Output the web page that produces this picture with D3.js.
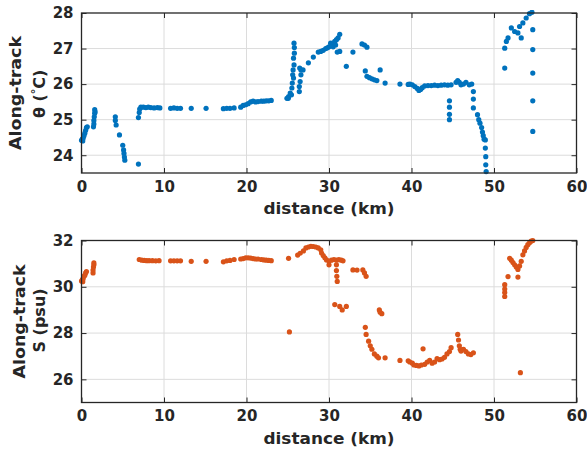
<!DOCTYPE html>
<html>
<head>
<meta charset="utf-8">
<script src="https://cdn.jsdelivr.net/npm/d3@7"></script>
<style>
  html, body { margin: 0; padding: 0; background: #fff; }
  svg { display: block; }
  text { font-family: "DejaVu Sans", sans-serif; font-weight: bold; fill: #262626; }
</style>
</head>
<body>
<div id="chart"></div>
<script>
// along-track temperature
var distTheta = [
  0.0, 0.15, 0.1, 0.2, 0.3, 0.4, 0.5, 0.6, 0.7,
  1.45, 1.5, 1.5, 1.55, 1.6, 1.65, 1.6,
  4.1, 4.1, 4.2, 4.6, 5.0, 5.1, 5.15, 5.2, 5.25,
  6.9, 6.9,
  7.0, 7.05, 7.2, 7.5, 7.8, 8.1, 8.4, 8.8, 9.2, 9.5,
  10.8, 11.2, 11.6, 12.0, 13.3, 15.1, 17.2, 17.6, 18.0, 18.5,
  19.3, 19.6, 19.9, 20.2, 20.5, 20.8, 21.1, 21.4, 21.8, 22.1, 22.4, 22.7, 23.0,
  24.9, 25.1, 25.3,
  25.76, 25.8, 25.8, 25.7, 25.76, 25.65, 25.6, 25.7, 25.55, 25.5, 25.45, 25.07,
  26.4, 26.4, 26.5, 26.6, 26.6, 26.45, 26.85, 27.5, 28.1,
  28.7, 29.0, 29.3, 29.6, 29.8, 30.0, 30.2, 30.3, 30.5, 30.5, 30.7, 30.8, 30.9, 31.1, 31.3,
  31.0, 31.3, 32.1, 32.9, 34.0, 34.3, 34.6,
  34.4, 34.6, 34.9, 35.2, 35.5, 35.8, 36.2, 36.8, 38.6, 39.6,
  39.8, 40.1, 40.4, 40.7, 40.9, 41.1, 41.3, 41.6, 42.0, 42.4, 42.8, 43.2, 43.6, 44.0, 44.4, 44.8,
  45.4, 45.6, 45.8, 46.0, 46.3, 46.6, 47.0, 47.3,
  44.6, 44.6, 44.6, 44.6,
  47.5, 47.5, 47.5,
  48.0, 48.15, 48.3, 48.5, 48.6, 48.7, 48.8, 48.95, 48.95, 49.0, 49.0, 49.05,
  51.3, 51.3, 51.5, 51.7, 52.1, 52.5, 52.9, 53.3, 53.1, 53.5, 53.9, 54.3, 54.6,
  54.7, 54.7, 54.7, 54.7, 54.7
]
var theta = [
  24.42, 24.4, 24.45, 24.48, 24.55, 24.62, 24.7, 24.78, 24.8,
  24.8, 24.88, 24.98, 25.08, 25.18, 25.22, 25.28,
  25.08, 24.98, 24.85, 24.57, 24.28, 24.15, 24.05, 23.95, 23.86,
  25.06, 23.75,
  25.2, 25.3, 25.35, 25.35, 25.34, 25.35, 25.34, 25.33, 25.34, 25.33,
  25.32, 25.33, 25.32, 25.32, 25.32, 25.32, 25.31, 25.32, 25.32, 25.33,
  25.35, 25.4, 25.42, 25.45, 25.5, 25.52, 25.5, 25.51, 25.52, 25.52, 25.53, 25.53, 25.54,
  25.6, 25.65, 25.75,
  27.15, 27.03, 26.87, 26.73, 26.54, 26.4, 26.26, 26.17, 26.03, 25.89, 25.7, 25.6,
  25.79, 25.93, 26.07, 26.26, 26.4, 26.45, 26.4, 26.6, 26.76,
  26.9, 26.92, 26.95, 27.0, 27.02, 27.05, 27.15, 27.1, 27.15, 27.05, 27.2, 27.1, 27.25, 27.3, 27.4,
  26.9, 26.92, 26.5, 26.9, 27.13, 27.1, 27.04,
  26.37, 26.22, 26.18, 26.15, 26.12, 26.1, 26.4, 26.03, 26.0, 25.99,
  26.0, 25.98, 25.93, 25.88, 25.82, 25.85, 25.9, 25.95, 25.96, 25.96, 25.97, 25.96, 25.97, 25.98, 25.97, 25.98,
  26.05, 26.1, 26.05, 25.98, 26.0, 26.05, 25.98, 26.0,
  25.53, 25.35, 25.15, 25.0,
  25.79, 25.58, 25.33,
  25.14, 25.0, 24.9, 24.78, 24.65, 24.55, 24.45, 24.43, 24.2, 23.96, 23.73, 23.54,
  26.45, 27.01, 27.2, 27.3, 27.58, 27.48, 27.44, 27.3, 27.62, 27.72, 27.86, 27.98, 28.02,
  27.53, 26.97, 26.31, 25.53, 24.67
]

// along-track salinity
var distSal = [
  0.0, 0.15, 0.1, 0.2, 0.3, 0.4, 0.5, 0.6,
  1.4, 1.4, 1.45, 1.5, 1.5,
  7.0, 7.3, 7.6, 7.9, 8.2, 8.6, 9.0, 9.4,
  10.8, 11.2, 11.6, 12.0, 13.3, 15.1, 17.2, 17.6, 18.0, 18.5,
  19.3, 19.6, 19.9, 20.2, 20.5, 20.8, 21.1, 21.4, 21.8, 22.1, 22.4, 22.7, 23.0,
  25.1, 25.2,
  26.2, 26.5, 26.9, 27.2, 27.5, 27.8, 28.1, 28.4, 28.7, 29.0, 29.1, 29.3, 29.5, 29.7,
  30.0, 30.3, 30.6, 30.9, 31.2, 31.5, 31.7,
  30.0, 30.9, 30.9, 30.95, 31.0,
  32.9, 33.4, 34.1, 34.3, 34.5,
  30.7, 31.3, 31.6, 32.1,
  36.1, 36.2, 36.4,
  34.4, 34.5, 34.8, 35.0, 35.2, 35.5, 35.8, 36.0, 36.8, 38.6, 39.6,
  39.8, 40.1, 40.3, 40.6, 40.9, 41.2, 41.4, 41.6, 41.9, 42.2, 42.5, 42.8, 43.1, 43.4, 43.7, 44.0, 44.3, 44.6, 44.8,
  45.6, 45.7, 45.8, 45.9, 46.0, 46.3, 46.6, 46.9, 47.2, 47.5,
  51.3, 51.3, 51.3, 51.3, 51.7, 52.9, 53.2,
  51.9, 52.1, 52.3, 52.5, 52.7, 52.9, 53.1, 53.3, 53.5, 53.7, 53.9, 54.1, 54.3, 54.5, 54.7
]
var sal = [
  30.25, 30.22, 30.3, 30.35, 30.45, 30.5, 30.6, 30.66,
  30.6, 30.72, 30.85, 30.95, 31.03,
  31.18, 31.15, 31.14, 31.13, 31.13, 31.13, 31.12, 31.13,
  31.12, 31.12, 31.12, 31.12, 31.1, 31.1, 31.08, 31.12, 31.14, 31.18,
  31.2, 31.22, 31.25, 31.25, 31.24, 31.22, 31.2, 31.2, 31.18, 31.16, 31.15, 31.14, 31.13,
  31.23, 28.05,
  31.37, 31.45, 31.55, 31.68, 31.72, 31.75, 31.74, 31.72, 31.68, 31.6, 31.46, 31.35, 31.25, 31.16,
  31.1, 31.15, 31.18, 31.15, 31.17, 31.15, 31.12,
  30.95, 30.95, 30.7, 30.45, 30.23,
  30.73, 30.72, 30.73, 30.6, 30.45,
  29.23, 29.15, 29.0, 29.15,
  29.0, 28.9, 28.84,
  28.25, 27.94, 27.65, 27.45, 27.3, 27.1, 27.0, 26.93, 26.93, 26.82, 26.8,
  26.75, 26.7, 26.62, 26.6, 26.58, 26.62, 27.32, 26.65, 26.75, 26.82, 26.7, 26.75, 26.9, 26.85, 26.88, 26.95, 27.1, 27.2, 27.37,
  27.94, 27.7, 27.45, 27.3, 27.22, 27.3, 27.2, 27.1, 27.07, 27.15,
  30.09, 29.9, 29.75, 29.58, 30.44, 30.42, 26.29,
  31.23, 31.15, 31.05, 30.95, 30.85, 30.75, 30.9, 31.1, 31.38, 31.55, 31.7, 31.82, 31.9, 31.97, 32.0
]

var distTicks = [0, 10, 20, 30, 40, 50, 60]
var thetaTicks = [24, 25, 26, 27, 28]
var salTicks = [26, 28, 30, 32]

var width = 587
var height = 449

var svg = d3.select('#chart').append('svg')
  .attr('width', width)
  .attr('height', height)

// one scatter panel, MATLAB style box with inward ticks and a light grid
function panel (opts) {
  var w = opts.right - opts.left
  var h = opts.bottom - opts.top
  var x = d3.scaleLinear().domain([0, 60]).range([0, w])
  var y = d3.scaleLinear().domain(opts.yDomain).range([h, 0])

  var g = svg.append('g')
    .attr('transform', 'translate(' + opts.left + ',' + opts.top + ')')

  // grid
  g.append('g').selectAll('line').data(distTicks.slice(1, -1)).enter().append('line')
    .attr('x1', x).attr('x2', x).attr('y1', 0).attr('y2', h)
    .attr('stroke', '#dcdcdc').attr('stroke-width', 1)
  g.append('g').selectAll('line').data(opts.yTicks.filter(function (t) { return t !== opts.yDomain[1] })).enter().append('line')
    .attr('x1', 0).attr('x2', w).attr('y1', y).attr('y2', y)
    .attr('stroke', '#dcdcdc').attr('stroke-width', 1)

  // points
  var clipId = 'clip-' + opts.name
  g.append('clipPath').attr('id', clipId)
    .append('rect').attr('x', -3).attr('y', -3).attr('width', w + 6).attr('height', h + 6)
  g.append('g').attr('clip-path', 'url(#' + clipId + ')')
    .selectAll('circle').data(opts.xs).enter().append('circle')
    .attr('cx', function (d) { return x(d) })
    .attr('cy', function (d, i) { return y(opts.ys[i]) })
    .attr('r', 2.6)
    .attr('fill', opts.color)

  // axes, ticks pointing inward
  var fmt = d3.format('d')
  var xAxis = d3.axisBottom(x).tickValues(distTicks).tickSize(-5).tickPadding(8).tickFormat(fmt)
  var yAxis = d3.axisLeft(y).tickValues(opts.yTicks).tickSize(-5).tickPadding(8).tickFormat(fmt)
  g.append('g').attr('transform', 'translate(0,' + h + ')').call(xAxis)
  g.append('g').call(yAxis)
  g.append('g')
    .call(d3.axisTop(x).tickValues(distTicks).tickSize(-5).tickFormat(''))
  g.append('g').attr('transform', 'translate(' + w + ',0)')
    .call(d3.axisRight(y).tickValues(opts.yTicks).tickSize(-5).tickFormat(''))

  g.selectAll('.domain').remove()
  g.selectAll('.tick line').attr('stroke', '#262626')
  g.selectAll('.tick text').style('font-size', '15px').attr('fill', '#262626')

  g.append('rect')
    .attr('width', w).attr('height', h)
    .attr('fill', 'none').attr('stroke', '#262626').attr('stroke-width', 1.3)

  // labels
  g.append('text')
    .attr('x', w / 2).attr('y', h + 41)
    .attr('text-anchor', 'middle')
    .attr('textLength', 131).attr('lengthAdjust', 'spacingAndGlyphs')
    .style('font-size', '16px')
    .text('distance (km)')

  var ylab = g.append('text')
    .attr('transform', 'translate(' + (opts.labelX - opts.left) + ',' + (h / 2) + ') rotate(-90)')
    .style('font-size', '16px')
  ylab.append('tspan').attr('x', -57).attr('dy', 0)
    .attr('textLength', 114).attr('lengthAdjust', 'spacingAndGlyphs')
    .text('Along-track')
  var second = ylab.append('tspan').attr('dy', opts.lineGap)
  opts.yLabel(second)
}

panel({
  name: 'theta',
  left: 81.5, right: 576.5, top: 13, bottom: 173,
  yDomain: [23.5, 28],
  yTicks: thetaTicks,
  xs: distTheta, ys: theta,
  color: '#0072BD',
  labelX: 21, lineGap: 24,
  yLabel: function (t) {
    t.attr('x', -25).text('θ (')
    t.append('tspan').attr('dy', -6).style('font-size', '11px').text('°')
    t.append('tspan').attr('dy', 6).text('C)')
  }
})

panel({
  name: 'sal',
  left: 81.5, right: 576.5, top: 240.5, bottom: 402.5,
  yDomain: [25, 32],
  yTicks: salTicks,
  xs: distSal, ys: sal,
  color: '#D95319',
  labelX: 24.5, lineGap: 20,
  yLabel: function (t) { t.attr('x', -31).text('S (psu)') }
})
</script>
</body>
</html>
